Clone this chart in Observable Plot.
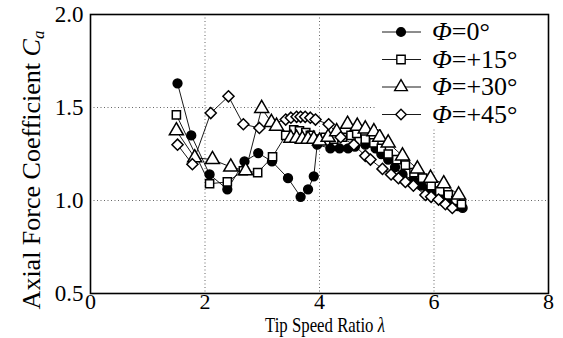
<!DOCTYPE html>
<html><head><meta charset="utf-8">
<script src="https://cdn.jsdelivr.net/npm/d3@7"></script>
<script src="https://cdn.jsdelivr.net/npm/@observablehq/plot@0.6"></script>
<style>
html,body{margin:0;padding:0;background:#fff;}
#chart{position:relative;width:563px;height:338px;}
</style>
</head><body><div id="chart"></div>
<script>
// Φ = 0° (filled circles)
const lambda0 = [1.52,1.76,2.08,2.39,2.69,2.93,3.17,3.45,3.67,3.8,3.9,3.96,4.19,4.35,4.5,4.62,4.8,4.98,5.08,5.2,5.32,5.45,5.64,5.78,5.9,6.05,6.15,6.3,6.42,6.5];
const ca0     = [1.63,1.35,1.14,1.06,1.21,1.255,1.21,1.12,1.02,1.06,1.13,1.30,1.28,1.28,1.28,1.29,1.30,1.28,1.25,1.22,1.18,1.14,1.11,1.08,1.06,1.04,1.02,0.99,0.97,0.96];
// Φ = +15° (open squares)
const lambda15 = [1.5,2.08,2.39,2.67,2.92,3.18,3.41,3.55,3.65,3.76,3.84,3.96,4.1,4.25,4.4,4.55,4.65,4.8,4.95,5.08,5.2,5.35,5.5,5.65,5.8,5.95,6.1,6.25,6.38,6.48];
const ca15     = [1.46,1.09,1.10,1.16,1.15,1.235,1.35,1.38,1.375,1.365,1.35,1.33,1.34,1.33,1.34,1.35,1.36,1.33,1.31,1.28,1.25,1.22,1.19,1.15,1.12,1.08,1.05,1.03,1.00,0.98];
// Φ = +30° (open triangles)
const lambda30 = [1.5,1.82,2.13,2.45,2.71,2.99,3.16,3.25,3.5,3.6,3.7,3.8,3.9,4.0,4.15,4.3,4.49,4.66,4.8,4.95,5.05,5.2,5.45,5.71,5.94,6.17,6.43];
const ca30     = [1.375,1.23,1.22,1.18,1.16,1.495,1.42,1.40,1.335,1.335,1.33,1.33,1.33,1.32,1.34,1.37,1.41,1.40,1.385,1.37,1.34,1.31,1.24,1.17,1.12,1.09,1.03];
// Φ = +45° (open diamonds)
const lambda45 = [1.52,1.78,2.1,2.41,2.67,2.95,3.41,3.5,3.6,3.67,3.75,3.84,3.93,4.16,4.37,4.6,4.8,4.89,5.1,5.25,5.38,5.5,5.64,5.85,5.95,6.08,6.2,6.32];
const ca45     = [1.30,1.195,1.47,1.56,1.41,1.39,1.435,1.445,1.45,1.45,1.45,1.445,1.435,1.41,1.34,1.30,1.24,1.22,1.17,1.14,1.12,1.10,1.08,1.03,1.02,1.005,0.98,0.96];

const seriesNames = ["=0°","=+15°","=+30°","=+45°"];
const xTicks = [0,2,4,6,8];
const yTicks = [0.5,1.0,1.5,2.0];
const gridX = [2,4,6];
const gridY = [1.0,1.5];

const lambdas = [lambda0,lambda15,lambda30,lambda45];
const cas = [ca0,ca15,ca30,ca45];
const data = [];
lambdas.forEach((ls,i)=>ls.forEach((l,j)=>data.push({s:seriesNames[i],k:i,x:l,y:cas[i][j]})));
const sub = k => data.filter(d=>d.k===k);

const font = "Liberation Serif";
const plot = Plot.plot({
  width:563, height:338,
  marginLeft:90, marginRight:15, marginTop:14, marginBottom:45,
  style:{fontFamily:font, fontSize:"23px", background:"white", color:"black"},
  x:{domain:[0,8]},
  y:{domain:[0.5,2.0]},
  marks:[
    Plot.gridX(gridX,{stroke:"black",strokeOpacity:0.6,strokeDasharray:"1,2.5"}),
    Plot.gridY(gridY,{stroke:"black",strokeOpacity:0.6,strokeDasharray:"1,2.5"}),
    Plot.axisX({ticks:xTicks, tickSize:0, tickPadding:0, label:null, fontSize:22, fontFamily:font}),
    Plot.axisY({ticks:yTicks, tickSize:0, tickPadding:7, label:null, tickFormat:d3.format(".1f"), fontSize:23, fontFamily:font}),
    Plot.line(data,{x:"x",y:"y",z:"s",stroke:"black",strokeWidth:0.9}),
    Plot.dot(sub(0),{x:"x",y:"y",r:4.4,fill:"black",stroke:"black",symbol:"circle"}),
    Plot.dot(sub(1),{x:"x",y:"y",r:4.6,fill:"white",stroke:"black",strokeWidth:1.5,symbol:"square"}),
    Plot.dot(sub(2),{x:"x",y:"y",r:5.2,fill:"white",stroke:"black",strokeWidth:1.5,symbol:"triangle"}),
    Plot.dot(sub(3),{x:"x",y:"y",r:5,fill:"white",stroke:"black",strokeWidth:1.5,symbol:"diamond2"}),
    Plot.frame({stroke:"black",strokeWidth:1.6})
  ]
});
document.getElementById("chart").appendChild(plot);

const svg = d3.select(plot);
svg.selectAll("text").style("font-family",font);
// axis titles
const xl = svg.append("text").attr("transform","translate(265,332) scale(0.84,1)").attr("text-anchor","start")
  .style("font-family",font).style("font-size","20px").attr("fill","black");
xl.append("tspan").text("Tip Speed Ratio ");
xl.append("tspan").style("font-style","italic").text("λ");
const yl = svg.append("text").attr("transform","translate(40,170) rotate(-90)").attr("text-anchor","middle")
  .style("font-family",font).style("font-size","26px").attr("fill","black");
yl.append("tspan").text("Axial Force Coefficient ");
yl.append("tspan").style("font-style","italic").text("C");
yl.append("tspan").style("font-style","italic").style("font-size","17px").attr("dy",4).text("a");

// legend (white backing box without border, covering the grid)
const symbols = [d3.symbolCircle,d3.symbolSquare,d3.symbolTriangle,d3.symbolDiamond2];
const sizes = [60,70,70,70];
const fills = ["black","white","white","white"];
const lg = svg.append("g");
lg.append("rect").attr("x",377).attr("y",17).attr("width",169).attr("height",112).attr("fill","white");
seriesNames.forEach((name,i)=>{
  const y = 32 + i*27.5;
  lg.append("line").attr("x1",382).attr("x2",421).attr("y1",y).attr("y2",y).attr("stroke","black").attr("stroke-width",0.9);
  lg.append("path").attr("d",d3.symbol(symbols[i],sizes[i])()).attr("transform",`translate(401,${y})`)
    .attr("fill",fills[i]).attr("stroke","black").attr("stroke-width",1.4);
  const t = lg.append("text").attr("x",432).attr("y",y+8).attr("text-anchor","start")
    .style("font-family",font).style("font-size","26px").attr("fill","black");
  t.append("tspan").style("font-style","italic").text("Φ");
  t.append("tspan").text(name);
});
</script></body></html>
